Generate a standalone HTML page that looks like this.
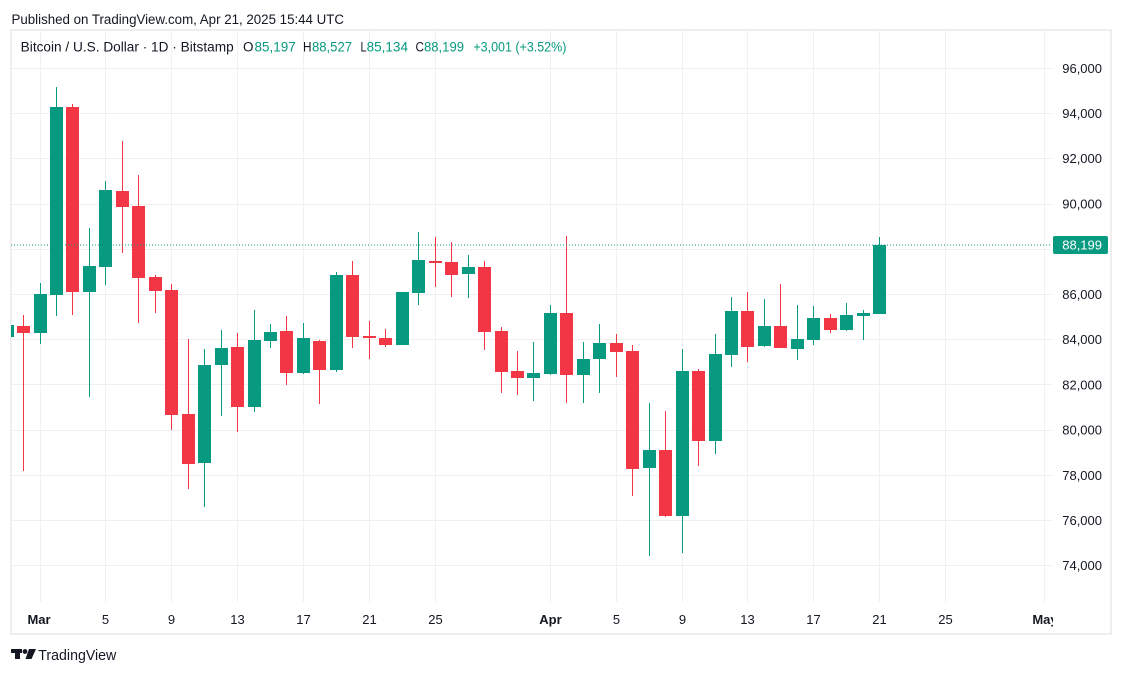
<!DOCTYPE html>
<html><head><meta charset="utf-8"><style>
html,body{margin:0;padding:0;background:#fff;}
svg{display:block;font-family:"Liberation Sans",Arial,sans-serif;}
</style></head><body>
<svg width="1123" height="674" viewBox="0 0 1123 674" xmlns="http://www.w3.org/2000/svg">
<rect width="1123" height="674" fill="#fff"/>
<defs><clipPath id="pane"><rect x="11" y="31" width="1041" height="571"/></clipPath>
<clipPath id="taxis"><rect x="11" y="602" width="1042" height="31"/></clipPath></defs>
<text x="11.5" y="24" font-size="13.5" fill="#131722" textLength="332.5" lengthAdjust="spacingAndGlyphs">Published on TradingView.com, Apr 21, 2025 15:44 UTC</text>
<rect x="11" y="30" width="1100" height="604" fill="none" stroke="#eeeeee" stroke-width="2"/>
<g stroke="#f0f0f0" stroke-width="1">
<line x1="11" x2="1052" y1="68.5" y2="68.5"/><line x1="11" x2="1052" y1="113.5" y2="113.5"/><line x1="11" x2="1052" y1="158.5" y2="158.5"/><line x1="11" x2="1052" y1="204.5" y2="204.5"/><line x1="11" x2="1052" y1="249.5" y2="249.5"/><line x1="11" x2="1052" y1="294.5" y2="294.5"/><line x1="11" x2="1052" y1="339.5" y2="339.5"/><line x1="11" x2="1052" y1="384.5" y2="384.5"/><line x1="11" x2="1052" y1="430.5" y2="430.5"/><line x1="11" x2="1052" y1="475.5" y2="475.5"/><line x1="11" x2="1052" y1="520.5" y2="520.5"/><line x1="11" x2="1052" y1="565.5" y2="565.5"/>
<line x1="40.5" x2="40.5" y1="31" y2="602"/><line x1="105.5" x2="105.5" y1="31" y2="602"/><line x1="171.5" x2="171.5" y1="31" y2="602"/><line x1="237.5" x2="237.5" y1="31" y2="602"/><line x1="303.5" x2="303.5" y1="31" y2="602"/><line x1="369.5" x2="369.5" y1="31" y2="602"/><line x1="435.5" x2="435.5" y1="31" y2="602"/><line x1="550.5" x2="550.5" y1="31" y2="602"/><line x1="616.5" x2="616.5" y1="31" y2="602"/><line x1="682.5" x2="682.5" y1="31" y2="602"/><line x1="747.5" x2="747.5" y1="31" y2="602"/><line x1="813.5" x2="813.5" y1="31" y2="602"/><line x1="879.5" x2="879.5" y1="31" y2="602"/><line x1="945.5" x2="945.5" y1="31" y2="602"/><line x1="1044.5" x2="1044.5" y1="31" y2="602"/>
</g>
<g font-size="13.5" fill="#131722">
<text x="20.7" y="51.5" textLength="213" lengthAdjust="spacingAndGlyphs">Bitcoin / U.S. Dollar · 1D · Bitstamp</text>
<text x="243" y="51.5" textLength="10.5" lengthAdjust="spacingAndGlyphs">O</text>
<text x="303" y="51.5" textLength="8.5" lengthAdjust="spacingAndGlyphs">H</text>
<text x="360.5" y="51.5" textLength="6" lengthAdjust="spacingAndGlyphs">L</text>
<text x="415.5" y="51.5" textLength="8.5" lengthAdjust="spacingAndGlyphs">C</text>
</g>
<g font-size="13.5" fill="#089981">
<text x="254.5" y="51.5" textLength="41.3" lengthAdjust="spacingAndGlyphs">85,197</text>
<text x="312" y="51.5" textLength="40" lengthAdjust="spacingAndGlyphs">88,527</text>
<text x="366.6" y="51.5" textLength="41.4" lengthAdjust="spacingAndGlyphs">85,134</text>
<text x="424" y="51.5" textLength="40" lengthAdjust="spacingAndGlyphs">88,199</text>
<text x="473.4" y="51.5" textLength="93" lengthAdjust="spacingAndGlyphs">+3,001 (+3.52%)</text>
</g>
<g clip-path="url(#pane)">
<g fill="#089981">
<rect x="7" y="322" width="1" height="18"/><rect x="1" y="325" width="13" height="12"/>
<rect x="40" y="283" width="1" height="61"/><rect x="34" y="294" width="13" height="39"/>
<rect x="56" y="87" width="1" height="229"/><rect x="50" y="107" width="13" height="188"/>
<rect x="89" y="228" width="1" height="169"/><rect x="83" y="266" width="13" height="26"/>
<rect x="105" y="181" width="1" height="104"/><rect x="99" y="190" width="13" height="77"/>
<rect x="204" y="349" width="1" height="158"/><rect x="198" y="365" width="13" height="98"/>
<rect x="221" y="330" width="1" height="86"/><rect x="215" y="348" width="13" height="17"/>
<rect x="254" y="310" width="1" height="102"/><rect x="248" y="340" width="13" height="67"/>
<rect x="270" y="324" width="1" height="24"/><rect x="264" y="332" width="13" height="9"/>
<rect x="303" y="323" width="1" height="51"/><rect x="297" y="338" width="13" height="35"/>
<rect x="336" y="272" width="1" height="100"/><rect x="330" y="275" width="13" height="95"/>
<rect x="396" y="292" width="13" height="53"/>
<rect x="418" y="232" width="1" height="73"/><rect x="412" y="260" width="13" height="33"/>
<rect x="468" y="255" width="1" height="43"/><rect x="462" y="267" width="13" height="7"/>
<rect x="533" y="342" width="1" height="59"/><rect x="527" y="373" width="13" height="5"/>
<rect x="550" y="305" width="1" height="70"/><rect x="544" y="313" width="13" height="61"/>
<rect x="583" y="342" width="1" height="61"/><rect x="577" y="359" width="13" height="16"/>
<rect x="599" y="324" width="1" height="69"/><rect x="593" y="343" width="13" height="16"/>
<rect x="649" y="403" width="1" height="153"/><rect x="643" y="450" width="13" height="18"/>
<rect x="682" y="349" width="1" height="204"/><rect x="676" y="371" width="13" height="145"/>
<rect x="715" y="334" width="1" height="120"/><rect x="709" y="354" width="13" height="87"/>
<rect x="731" y="297" width="1" height="70"/><rect x="725" y="311" width="13" height="44"/>
<rect x="764" y="299" width="1" height="48"/><rect x="758" y="326" width="13" height="20"/>
<rect x="797" y="305" width="1" height="55"/><rect x="791" y="339" width="13" height="10"/>
<rect x="813" y="306" width="1" height="39"/><rect x="807" y="318" width="13" height="22"/>
<rect x="846" y="303" width="1" height="28"/><rect x="840" y="315" width="13" height="15"/>
<rect x="863" y="310" width="1" height="30"/><rect x="857" y="313" width="13" height="3"/>
<rect x="879" y="237" width="1" height="77"/><rect x="873" y="245" width="13" height="69"/>
</g>
<g fill="#F23645">
<rect x="23" y="315" width="1" height="156"/><rect x="17" y="326" width="13" height="7"/>
<rect x="72" y="104" width="1" height="211"/><rect x="66" y="107" width="13" height="185"/>
<rect x="122" y="141" width="1" height="112"/><rect x="116" y="191" width="13" height="16"/>
<rect x="138" y="175" width="1" height="148"/><rect x="132" y="206" width="13" height="72"/>
<rect x="155" y="275" width="1" height="38"/><rect x="149" y="277" width="13" height="14"/>
<rect x="171" y="284" width="1" height="146"/><rect x="165" y="290" width="13" height="125"/>
<rect x="188" y="339" width="1" height="150"/><rect x="182" y="414" width="13" height="50"/>
<rect x="237" y="333" width="1" height="99"/><rect x="231" y="347" width="13" height="60"/>
<rect x="286" y="316" width="1" height="69"/><rect x="280" y="331" width="13" height="42"/>
<rect x="319" y="340" width="1" height="64"/><rect x="313" y="341" width="13" height="29"/>
<rect x="352" y="261" width="1" height="87"/><rect x="346" y="275" width="13" height="62"/>
<rect x="369" y="321" width="1" height="38"/><rect x="363" y="336" width="13" height="2"/>
<rect x="385" y="329" width="1" height="18"/><rect x="379" y="338" width="13" height="7"/>
<rect x="435" y="237" width="1" height="50"/><rect x="429" y="261" width="13" height="2"/>
<rect x="451" y="242" width="1" height="55"/><rect x="445" y="262" width="13" height="13"/>
<rect x="484" y="261" width="1" height="89"/><rect x="478" y="267" width="13" height="65"/>
<rect x="501" y="327" width="1" height="66"/><rect x="495" y="331" width="13" height="41"/>
<rect x="517" y="351" width="1" height="44"/><rect x="511" y="371" width="13" height="7"/>
<rect x="566" y="236" width="1" height="167"/><rect x="560" y="313" width="13" height="62"/>
<rect x="616" y="334" width="1" height="43"/><rect x="610" y="343" width="13" height="9"/>
<rect x="632" y="345" width="1" height="151"/><rect x="626" y="351" width="13" height="118"/>
<rect x="665" y="411" width="1" height="106"/><rect x="659" y="450" width="13" height="66"/>
<rect x="698" y="369" width="1" height="97"/><rect x="692" y="371" width="13" height="70"/>
<rect x="747" y="292" width="1" height="70"/><rect x="741" y="311" width="13" height="36"/>
<rect x="780" y="284" width="1" height="64"/><rect x="774" y="326" width="13" height="22"/>
<rect x="830" y="314" width="1" height="19"/><rect x="824" y="318" width="13" height="12"/>
</g>
<line x1="11" x2="1050" y1="245" y2="245" stroke="#089981" stroke-width="1" stroke-dasharray="1 2"/>
</g>
<g font-size="13" fill="#131722" text-anchor="end">
<text x="1102" y="72.8">96,000</text><text x="1102" y="118">94,000</text><text x="1102" y="163.2">92,000</text><text x="1102" y="208.5">90,000</text><text x="1102" y="298.9">86,000</text><text x="1102" y="344.1">84,000</text><text x="1102" y="389.3">82,000</text><text x="1102" y="434.6">80,000</text><text x="1102" y="479.8">78,000</text><text x="1102" y="525">76,000</text><text x="1102" y="570.2">74,000</text>
</g>
<rect x="1053" y="236" width="55" height="18" rx="2" fill="#089981"/>
<text x="1102" y="249.5" font-size="13" fill="#fff" text-anchor="end">88,199</text>
<g font-size="13" fill="#131722" text-anchor="middle" clip-path="url(#taxis)">
<text x="39" y="624" font-weight="bold">Mar</text>
<text x="105.5" y="624">5</text><text x="171.5" y="624">9</text><text x="237.5" y="624">13</text><text x="303.5" y="624">17</text><text x="369.5" y="624">21</text><text x="435.5" y="624">25</text>
<text x="550.5" y="624" font-weight="bold">Apr</text>
<text x="616.5" y="624">5</text><text x="682.5" y="624">9</text><text x="747.5" y="624">13</text><text x="813.5" y="624">17</text><text x="879.5" y="624">21</text><text x="945.5" y="624">25</text>
<text x="1045" y="624" font-weight="bold">May</text>
</g>
<g fill="#131722">
<rect x="11" y="649" width="11" height="4"/>
<rect x="15" y="649" width="5" height="10"/>
<circle cx="25" cy="651.5" r="2.4"/>
<polygon points="29,649 36,649 31.5,659 25.5,659"/>
<text x="38.3" y="660" font-size="15" textLength="78" lengthAdjust="spacingAndGlyphs">TradingView</text>
</g>
</svg>
</body></html>
